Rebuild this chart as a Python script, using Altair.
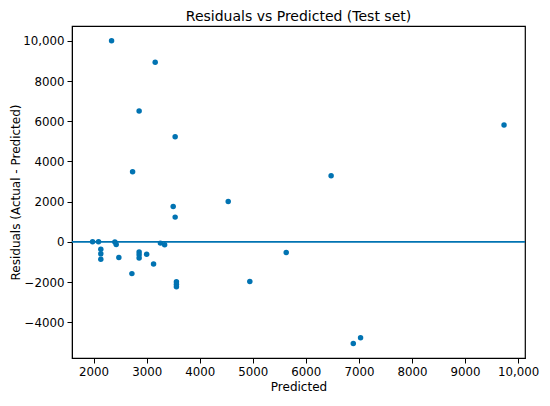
import altair as alt
import pandas as pd

predicted = [2339, 3161, 2858, 3537, 2735, 3500, 4537, 3537,
             1981, 2093, 2136, 2136, 2136, 2401, 2426, 2476, 2722,
             2858, 2858, 2858, 3000, 3130, 3259, 3339, 3561, 3561, 3561,
             4944, 5630, 9735, 6476, 6894, 7031]
residuals = [10000, 8930, 6508, 5230, 3487, 1763, 2005, 1230,
             0, 0, -370, -595, -870, -10, -127, -775, -1580,
             -500, -645, -805, -612, -1097, -63, -145, -1985, -2111, -2228,
             -1968, -532, 5811, 3293, -5051, -4775]

df = pd.DataFrame({"Predicted": predicted, "Residual": residuals})
zero = pd.DataFrame({"y": [0]})

blue = "#0173b2"
font = "DejaVu Sans"
label_expr = "abs(datum.value) >= 10000 ? format(datum.value, ',') : format(datum.value, 'd')"

x_scale = alt.Scale(domain=[1593, 10130], nice=False, zero=False)
y_scale = alt.Scale(domain=[-5777, 10736], nice=False, zero=False)

points = alt.Chart(df).mark_circle(size=30, opacity=1, color=blue).encode(
    x=alt.X("Predicted:Q", scale=x_scale,
            axis=alt.Axis(title="Predicted", values=list(range(2000, 10001, 1000)),
                          labelExpr=label_expr, grid=False,
                          labelPadding=3, titlePadding=4)),
    y=alt.Y("Residual:Q", scale=y_scale,
            axis=alt.Axis(title="Residuals (Actual - Predicted)",
                          values=list(range(-4000, 10001, 2000)),
                          labelExpr=label_expr, grid=False,
                          labelPadding=3, titlePadding=0)),
)

rule = alt.Chart(zero).mark_rule(color=blue, strokeWidth=1.8).encode(
    y=alt.Y("y:Q", scale=y_scale)
)

chart = alt.layer(rule, points).properties(
    width=453, height=332,
    title=alt.TitleParams("Residuals vs Predicted (Test set)", font=font,
                          fontSize=14, fontWeight="normal", color="black", offset=2),
    padding={"left": 64, "top": 18, "right": 17, "bottom": 39},
    autosize=alt.AutoSizeParams(type="none"),
).configure_view(
    stroke="black", strokeWidth=1.2
).configure_axis(
    labelFont=font, titleFont=font, labelFontSize=11.8, titleFontSize=12,
    titleFontWeight="normal", labelColor="black", titleColor="black",
    domainColor="black", tickColor="black", tickSize=5,
    domain=True
)

chart.save("out.html", embed_options={"renderer": "svg", "actions": False})
